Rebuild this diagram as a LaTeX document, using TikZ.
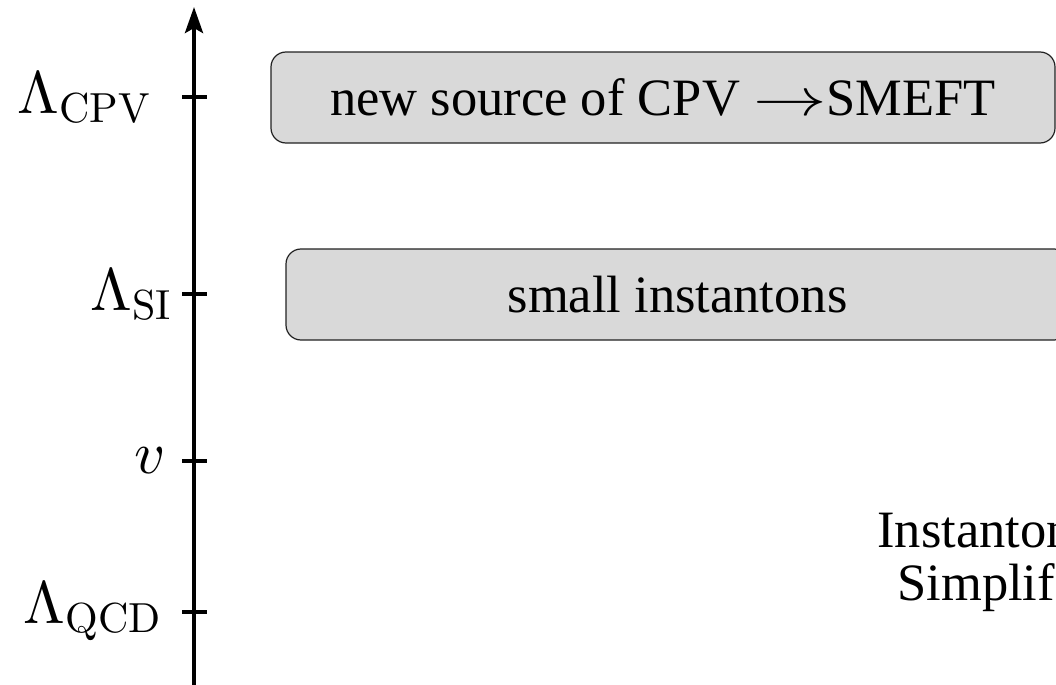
\RequirePackage{fix-cm}
\documentclass[tikz,border=0pt]{standalone}
\usepackage{fontspec}
\newfontfamily\timesfont{Liberation Serif}
\usetikzlibrary{arrows.meta}
\definecolor{boxgray}{HTML}{D9D9D9}
\definecolor{boxline}{HTML}{222222}
\newcommand\scsub[1]{\scalebox{0.7}{$\mathrm{#1}$}}
\begin{document}
\begin{tikzpicture}[x=0.5pt,y=-0.5pt,
  scalebox/.style={draw=boxline, line width=0.6pt, fill=boxgray, rounded corners=7.5pt,
    minimum height=45.5pt, inner sep=0pt, font=\timesfont\fontsize{26.25}{31}\selectfont},
  axislab/.style={inner sep=0pt, anchor=east},
  sidetext/.style={inner sep=0pt, anchor=base west, font=\timesfont\fontsize{26.25}{31}\selectfont},
  axistick/.style={line width=2pt},
  axisline/.style={line width=2pt, -{Stealth[length=13pt,width=9pt,inset=2.5pt]}}
]
\useasboundingbox (0,0) rectangle (1056,685);
\clip (0,0) rectangle (1056,685);
% axis
\coordinate (abot) at (194,700);
\coordinate (atop) at (194,7);
\draw[axisline] (abot) -- (atop);
% ticks
\coordinate (tcpv) at (194,97);
\coordinate (tsi) at (194,294);
\coordinate (tv) at (194,461);
\coordinate (tqcd) at (194,612);
\foreach \t in {tcpv,tsi,tv,tqcd}
  \draw[axistick] ([xshift=-6pt]\t) -- ([xshift=6.5pt]\t);
% labels
\node[axislab] (lcpv) at (153,98) {\scalebox{3}{$\Lambda_{\scsub{CPV}}$}};
\node[axislab] (lsi) at (174,295) {\scalebox{3}{$\Lambda_{\scsub{SI}}$}};
\node[axislab] (lv) at (166,461) {\scalebox{3}{$v$}};
\node[axislab] (lqcd) at (164,612) {\scalebox{3}{$\Lambda_{\scsub{QCD}}$}};
% boxes
\node[scalebox, minimum width=392pt] (bcpv) at (663,97.5) {new source of CPV \scalebox{1.4}[1]{$\rightarrow$}SMEFT};
\node[scalebox, minimum width=391.5pt] (bsi) at (677.5,294.5) {small instantons};
% side text
\node[sidetext] (inst) at (877,547) {Instanton};
\node[sidetext] (simp) at (897,600) {Simplif};
\end{tikzpicture}
\end{document}
